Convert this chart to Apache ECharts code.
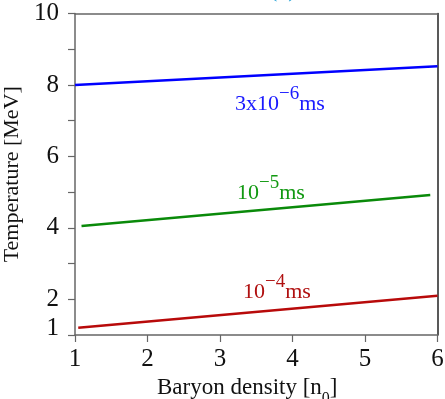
<!DOCTYPE html>
<html><head><meta charset="utf-8">
<script src="https://cdn.jsdelivr.net/npm/echarts@6/dist/echarts.min.js"></script>
<style>html,body{margin:0;padding:0;background:#fff}#c{width:445px;height:399px}</style>
</head><body><div id="c"></div>
<script>
// ---- data ----
const xAxisRange = [1, 6];
const yAxisRange = [1, 10];
const yLabelValues = [1, 2, 4, 6, 8, 10];
const blueX = [1.0, 6.0];
const blueY = [8.0, 8.52];
const greenX = [1.09, 5.9];
const greenY = [4.05, 4.92];
const redX = [1.045, 6.0];
const redY = [1.2, 2.1];
const labelBlue = ['3x10', '−6', 'ms'];
const labelGreen = ['10', '−5', 'ms'];
const labelRed = ['10', '−4', 'ms'];
const xName = ['Baryon density [n', '0', ']'];
const yName = 'Temperature [MeV]';
const panelTag = '(b)';

const F = '"Liberation Serif", "Times New Roman", serif';
function pts(xs, ys) { return xs.map((x, i) => [x, ys[i]]); }
function supText(parts, color, x, y) {
  return {
    type: 'text', x: x, y: y, z: 100,
    style: {
      text: '{m|' + parts[0] + '}{s|' + parts[1] + '}{m|' + parts[2] + '}',
      verticalAlign: 'bottom', align: 'left',
      rich: {
        m: { fontFamily: F, fontSize: 22, fill: color, verticalAlign: 'bottom', lineHeight: 30 },
        s: { fontFamily: F, fontSize: 19, fill: color, verticalAlign: 'top', lineHeight: 30 }
      }
    }
  };
}
const chart = echarts.init(document.getElementById('c'), null, { renderer: 'canvas' });
const axisGray = '#666';
chart.setOption({
  backgroundColor: '#fff',
  animation: false,
  grid: { left: 75, right: 7.5, top: 13.5, bottom: 64, show: false, containLabel: false, outerBoundsMode: 'none' },
  xAxis: [{
    type: 'value', min: xAxisRange[0], max: xAxisRange[1], interval: 1,
    axisLine: { show: true, onZero: false, lineStyle: { color: axisGray, width: 1.5 } },
    axisTick: { show: true, inside: false, length: 7, lineStyle: { color: axisGray, width: 1.2 } },
    axisLabel: { margin: 12, fontFamily: F, fontSize: 25, color: '#111' },
    splitLine: { show: false },
    name: '{m|' + xName[0] + '}{s|' + xName[1] + '}{m|' + xName[2] + '}',
    nameLocation: 'middle', nameGap: 37,
    nameTextStyle: {
      padding: [0, 18, 0, 0],
      rich: {
        m: { fontFamily: F, fontSize: 23, color: '#111', verticalAlign: 'top', lineHeight: 30 },
        s: { fontFamily: F, fontSize: 16, color: '#111', verticalAlign: 'bottom', lineHeight: 30 }
      }
    }
  }, {
    type: 'value', position: 'top', min: xAxisRange[0], max: xAxisRange[1],
    axisLine: { show: true, onZero: false, lineStyle: { color: axisGray, width: 1.5 } },
    axisTick: { show: false }, axisLabel: { show: false }, splitLine: { show: false }
  }],
  yAxis: [{
    type: 'value', min: yAxisRange[0], max: yAxisRange[1], interval: 1,
    axisLine: { show: true, onZero: false, lineStyle: { color: axisGray, width: 1.5 } },
    axisTick: { show: true, inside: false, length: 7, lineStyle: { color: axisGray, width: 1.2 } },
    axisLabel: {
      margin: 16, fontFamily: F, fontSize: 25, color: '#111',
      formatter: function (v) {
        if (yLabelValues.indexOf(v) < 0) return '';
        if (v === yAxisRange[0]) return '{low|' + v + '}';
        return '' + v;
      },
      rich: { low: { fontFamily: F, fontSize: 25, color: '#111', padding: [0, 0, 14, 0] } }
    },
    splitLine: { show: false },
    name: yName, nameLocation: 'middle', nameGap: 44,
    nameTextStyle: { fontFamily: F, fontSize: 22, color: '#111' }
  }, {
    type: 'value', position: 'right', min: yAxisRange[0], max: yAxisRange[1],
    axisLine: { show: true, onZero: false, lineStyle: { color: '#222', width: 1.5 } },
    axisTick: { show: false }, axisLabel: { show: false }, splitLine: { show: false }
  }],
  series: [
    { type: 'line', data: pts(blueX, blueY), symbol: 'none', lineStyle: { color: '#0000ff', width: 2.5 } },
    { type: 'line', data: pts(greenX, greenY), symbol: 'none', lineStyle: { color: '#0a8a0a', width: 2.5 } },
    { type: 'line', data: pts(redX, redY), symbol: 'none', lineStyle: { color: '#b80a0a', width: 2.5 } }
  ],
  graphic: [
    supText(labelBlue, '#1a1aff', 235, 115),
    supText(labelGreen, '#119911', 237, 204),
    supText(labelRed, '#b01010', 243, 303),
    { type: 'text', x: 270, y: 2, style: { text: panelTag, fontFamily: F, fontSize: 22, fill: '#1fa0d6', verticalAlign: 'bottom', align: 'left' } }
  ]
});
</script></body></html>
